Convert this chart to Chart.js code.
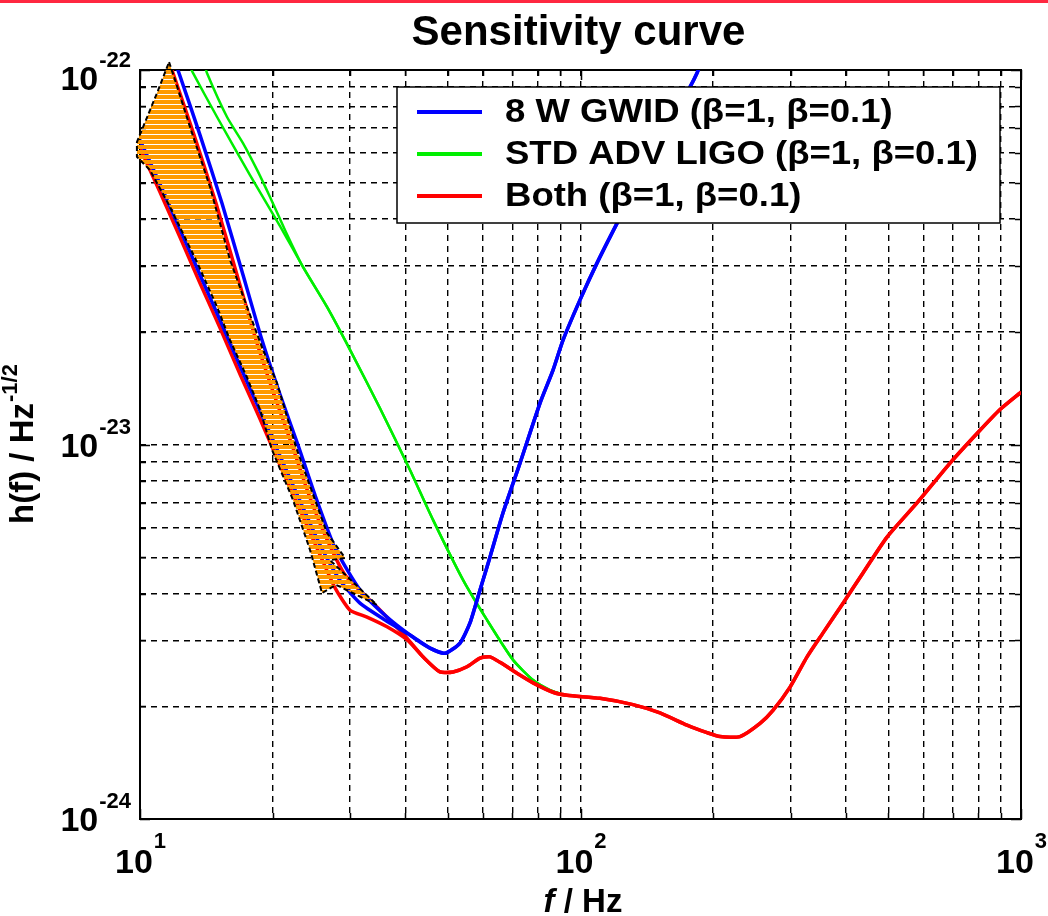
<!DOCTYPE html>
<html>
<head>
<meta charset="utf-8">
<title>Sensitivity curve</title>
<script src="https://cdn.jsdelivr.net/npm/chart.js@4.4.1/dist/chart.umd.min.js"></script>
<style>
  html, body { margin: 0; padding: 0; background: #fff; }
  #wrap { width: 1048px; height: 916px; }
</style>
</head>
<body>
<div id="wrap"><canvas id="sensChart" width="1048" height="916"></canvas></div>
<script>
// ---- data (f in Hz, h in 1/sqrt(Hz)) ----
const gwid1F = [12.0, 12.26, 13.68, 15.35, 17.13, 18.92, 20.79, 22.84, 24.96, 27.72, 31.58, 35.99, 41.01, 45.53, 49.24, 53.27, 56.12, 59.14, 62.32, 66.70, 72.89, 80.93, 86.62, 91.27, 99.7, 109.0, 121.1, 147.6, 177.3, 183.9, 186.8];
const gwid1H = [1.05e-22, 9.82e-23, 6.71e-23, 4.41e-23, 2.84e-23, 1.90e-23, 1.36e-23, 9.97e-24, 7.33e-24, 5.29e-24, 4.09e-24, 3.50e-24, 3.10e-24, 2.86e-24, 2.77e-24, 2.95e-24, 3.34e-24, 4.09e-24, 5.01e-24, 6.57e-24, 8.92e-24, 1.29e-23, 1.58e-23, 1.90e-23, 2.43e-23, 3.05e-23, 3.90e-23, 6.11e-23, 9.01e-23, 9.82e-23, 1.03e-22];

const gwid01F = [10.0, 11.10, 12.32, 13.68, 15.19, 16.87, 18.73, 20.79, 23.08, 25.63, 28.40, 31.58, 35.99, 41.01, 45.53, 49.24, 53.27, 56.12, 59.14, 62.32, 66.70, 72.89, 80.93, 86.62, 91.27, 99.7, 109.0, 121.1, 147.6, 177.3, 183.9, 186.8];
const gwid01H = [6.50e-23, 4.96e-23, 3.76e-23, 2.84e-23, 2.15e-23, 1.62e-23, 1.23e-23, 9.32e-24, 7.07e-24, 5.39e-24, 4.35e-24, 3.77e-24, 3.40e-24, 3.10e-24, 2.86e-24, 2.77e-24, 2.95e-24, 3.34e-24, 4.09e-24, 5.01e-24, 6.57e-24, 8.92e-24, 1.29e-23, 1.58e-23, 1.90e-23, 2.43e-23, 3.05e-23, 3.90e-23, 6.11e-23, 9.01e-23, 9.82e-23, 1.03e-22];

const ligo1F = [12.85, 13.19, 14.96, 17.77, 20.79, 23.44, 26.58, 29.98, 35.06, 41.01, 46.26, 54.11, 61.34, 70.27, 78.03, 85.27, 92.2];
const ligo1H = [1.05e-22, 9.82e-23, 7.49e-23, 5.24e-23, 3.83e-23, 2.98e-23, 2.33e-23, 1.79e-23, 1.25e-23, 8.55e-24, 6.29e-24, 4.35e-24, 3.40e-24, 2.66e-24, 2.35e-24, 2.21e-24, 2.14e-24];

const ligo01F = [13.97, 14.19, 15.76, 17.13, 18.44, 19.73, 21.45, 23.44, 26.58, 29.98, 35.06, 41.01, 46.26, 54.11, 61.34, 70.27, 78.03, 85.27, 92.2];
const ligo01H = [1.05e-22, 9.82e-23, 7.49e-23, 6.38e-23, 5.41e-23, 4.58e-23, 3.69e-23, 2.98e-23, 2.33e-23, 1.79e-23, 1.25e-23, 8.55e-24, 6.29e-24, 4.35e-24, 3.40e-24, 2.66e-24, 2.35e-24, 2.21e-24, 2.14e-24];

const both1F = [11.57, 11.88, 13.26, 14.88, 16.60, 18.34, 20.15, 22.13, 24.19, 26.30, 29.21, 34.51, 40.38, 43.90, 47.97, 51.36, 55.24, 59.14, 62.32, 65.66, 71.75, 78.03, 86.62, 93.19, 110.7, 131.6, 151.5, 174.5, 193.8, 207.4, 230.2, 255.6, 273.5, 299.0, 326.8, 355.3, 394.5, 437.8, 496.4, 580.6, 690.1, 794.5, 896.1, 1000];
const both1H = [1.08e-22, 9.82e-23, 6.71e-23, 4.41e-23, 2.84e-23, 1.90e-23, 1.36e-23, 9.97e-24, 7.33e-24, 5.73e-24, 4.48e-24, 3.68e-24, 3.04e-24, 2.71e-24, 2.47e-24, 2.47e-24, 2.55e-24, 2.69e-24, 2.71e-24, 2.62e-24, 2.45e-24, 2.31e-24, 2.18e-24, 2.14e-24, 2.10e-24, 2.02e-24, 1.92e-24, 1.78e-24, 1.70e-24, 1.66e-24, 1.66e-24, 1.80e-24, 1.95e-24, 2.25e-24, 2.71e-24, 3.14e-24, 3.77e-24, 4.54e-24, 5.66e-24, 6.98e-24, 8.92e-24, 1.07e-23, 1.24e-23, 1.38e-23];

const both01F = [10.0, 11.10, 12.32, 13.68, 15.19, 16.87, 18.73, 20.79, 23.08, 25.63, 27.72, 29.98, 32.76, 36.37, 40.38, 43.90, 47.97, 51.36, 55.24, 59.14, 62.32, 65.66, 71.75, 78.03, 86.62, 93.19, 110.7, 131.6, 151.5, 174.5, 193.8, 207.4, 230.2, 255.6, 273.5, 299.0, 326.8, 355.3, 394.5, 437.8, 496.4, 580.6, 690.1, 794.5, 896.1, 1000];
const both01H = [6.19e-23, 4.72e-23, 3.58e-23, 2.70e-23, 2.05e-23, 1.54e-23, 1.17e-23, 8.81e-24, 6.69e-24, 5.07e-24, 4.14e-24, 3.61e-24, 3.46e-24, 3.26e-24, 3.01e-24, 2.71e-24, 2.47e-24, 2.47e-24, 2.55e-24, 2.69e-24, 2.71e-24, 2.62e-24, 2.45e-24, 2.31e-24, 2.18e-24, 2.14e-24, 2.10e-24, 2.02e-24, 1.92e-24, 1.78e-24, 1.70e-24, 1.66e-24, 1.66e-24, 1.80e-24, 1.95e-24, 2.25e-24, 2.71e-24, 3.14e-24, 3.77e-24, 4.54e-24, 5.66e-24, 6.98e-24, 8.92e-24, 1.07e-23, 1.24e-23, 1.38e-23];

// outline of the hatched arrow drawn over the low-frequency part
const arrowF = [11.64, 12.01, 12.99, 14.42, 16.01, 17.50, 19.02, 20.46, 22.72, 26.58, 29.21, 27.00, 34.51, 27.86, 25.90, 24.32, 22.25, 19.94, 18.73, 17.50, 16.01, 14.96, 13.47, 11.70, 10.53, 9.84, 9.84, 10.16, 10.93, 11.64];
const arrowH = [1.05e-22, 9.40e-23, 7.04e-23, 4.87e-23, 3.11e-23, 2.33e-23, 1.79e-23, 1.46e-23, 9.67e-24, 5.80e-24, 4.98e-24, 4.91e-24, 3.73e-24, 4.22e-24, 4.01e-24, 5.23e-24, 7.11e-24, 9.67e-24, 1.24e-23, 1.51e-23, 1.90e-23, 2.33e-23, 3.07e-23, 4.31e-23, 5.41e-23, 5.86e-23, 6.42e-23, 7.04e-23, 8.68e-23, 1.05e-22];

const legendLabels = ['8 W GWID (\u03b2=1, \u03b2=0.1)', 'STD ADV LIGO (\u03b2=1, \u03b2=0.1)', 'Both (\u03b2=1, \u03b2=0.1)'];
const legendColors = ['#0000ff', '#00ee00', '#ff0000'];

const xGrid = [10, 20, 30, 40, 50, 60, 70, 80, 90, 100, 200, 300, 400, 500, 600, 700, 800, 900, 1000];
const yGrid = [1e-24, 2e-24, 3e-24, 4e-24, 5e-24, 6e-24, 7e-24, 8e-24, 9e-24, 1e-23, 2e-23, 3e-23, 4e-23, 5e-23, 6e-23, 7e-23, 8e-23, 9e-23, 1e-22];
const xMajor = [10, 100, 1000];
const xMajorExp = ['1', '2', '3'];
const yMajor = [1e-24, 1e-23, 1e-22];
const yMajorExp = ['-24', '-23', '-22'];

const FONT = '"Liberation Sans", Arial, Helvetica, sans-serif';

function pts(fs, hs) {
    return fs.map((f, i) => ({ x: f, y: hs[i] }));
}

function curve(fs, hs, color, width, order) {
    return {
        data: pts(fs, hs),
        showLine: true,
        borderColor: color,
        backgroundColor: color,
        borderWidth: width,
        pointRadius: 0,
        tension: 0.2,
        fill: false,
        order: order
    };
}

// hatch tile: orange with thin see-through stripes
const hatchTile = document.createElement('canvas');
hatchTile.width = 8;
hatchTile.height = 5;
(() => {
    const g = hatchTile.getContext('2d');
    g.fillStyle = '#ff9a00';
    g.fillRect(0, 0, 8, 4);
})();

// draws "10" with a raised exponent
function drawPow(ctx, exp, x, y, align, baseSize, expSize, rise) {
    ctx.font = 'bold ' + baseSize + 'px ' + FONT;
    const wb = ctx.measureText('10').width;
    ctx.font = 'bold ' + expSize + 'px ' + FONT;
    const we = ctx.measureText(exp).width;
    let left = x;
    if (align === 'center') left = x - (wb + we) / 2;
    if (align === 'right') left = x - wb - we;
    ctx.textAlign = 'left';
    ctx.textBaseline = 'alphabetic';
    ctx.font = 'bold ' + baseSize + 'px ' + FONT;
    ctx.fillText('10', left, y);
    ctx.font = 'bold ' + expSize + 'px ' + FONT;
    ctx.fillText(exp, left + wb + 1, y - rise);
}

const decorPlugin = {
    id: 'decor',
    beforeDatasetsDraw(chart) {
        const { ctx, chartArea: a, scales } = chart;
        ctx.save();
        ctx.strokeStyle = '#000';
        ctx.lineWidth = 1.5;
        // inner tick marks on all four sides
        xGrid.forEach(v => {
            const px = Math.round(scales.x.getPixelForValue(v)) + 0.5;
            const len = xMajor.includes(v) ? 10 : 6;
            ctx.beginPath();
            ctx.moveTo(px, a.bottom); ctx.lineTo(px, a.bottom - len);
            ctx.moveTo(px, a.top); ctx.lineTo(px, a.top + len);
            ctx.stroke();
        });
        yGrid.forEach(v => {
            const py = Math.round(scales.y.getPixelForValue(v)) + 0.5;
            const len = yMajor.includes(v) ? 10 : 6;
            ctx.beginPath();
            ctx.moveTo(a.left, py); ctx.lineTo(a.left + len, py);
            ctx.moveTo(a.right, py); ctx.lineTo(a.right - len, py);
            ctx.stroke();
        });
        ctx.lineWidth = 2;
        ctx.strokeRect(a.left, a.top, a.right - a.left, a.bottom - a.top);
        ctx.restore();
    },
    beforeDatasetDraw(chart, args) {
        if (args.index !== 0) return;
        const ctx = chart.ctx;
        const points = args.meta.data;
        ctx.save();
        ctx.beginPath();
        points.forEach((p, i) => (i ? ctx.lineTo(p.x, p.y) : ctx.moveTo(p.x, p.y)));
        ctx.closePath();
        ctx.fillStyle = ctx.createPattern(hatchTile, 'repeat');
        ctx.fill();
        ctx.restore();
    },
    afterDraw(chart) {
        const { ctx, chartArea: a, scales } = chart;
        ctx.save();

        // red rule along the top of the page
        ctx.fillStyle = '#ff2840';
        ctx.fillRect(0, 0, chart.width, 3);

        ctx.fillStyle = '#000';
        // title
        ctx.font = 'bold 42px ' + FONT;
        ctx.textAlign = 'center';
        ctx.textBaseline = 'alphabetic';
        ctx.fillText('Sensitivity curve', (a.left + a.right) / 2 - 2, 45);

        // x tick labels
        xMajor.forEach((v, i) => {
            const px = scales.x.getPixelForValue(v);
            drawPow(ctx, xMajorExp[i], px, 873, 'center', 34, 22, 25);
        });
        // y tick labels
        yMajor.forEach((v, i) => {
            const py = scales.y.getPixelForValue(v);
            drawPow(ctx, yMajorExp[i], a.left - 10, Math.max(py, 78) + 12, 'right', 34, 22, 23);
        });

        // x axis title
        ctx.font = 'bold italic 33px ' + FONT;
        const wf = ctx.measureText('f').width;
        ctx.font = 'bold 33px ' + FONT;
        const wr = ctx.measureText(' / Hz').width;
        const xl = 583 - (wf + wr) / 2;
        ctx.textAlign = 'left';
        ctx.font = 'bold italic 33px ' + FONT;
        ctx.fillText('f', xl, 912);
        ctx.font = 'bold 33px ' + FONT;
        ctx.fillText(' / Hz', xl + wf, 912);

        // y axis title (rotated)
        ctx.save();
        ctx.translate(33, (a.top + a.bottom) / 2);
        ctx.rotate(-Math.PI / 2);
        ctx.font = 'bold 33px ' + FONT;
        const wm = ctx.measureText('h(f) / Hz').width;
        ctx.font = 'bold 22px ' + FONT;
        const we = ctx.measureText('-1/2').width;
        const yl = -(wm + we) / 2;
        ctx.font = 'bold 33px ' + FONT;
        ctx.fillText('h(f) / Hz', yl, 0);
        ctx.font = 'bold 22px ' + FONT;
        ctx.fillText('-1/2', yl + wm + 1, -16);
        ctx.restore();

        // legend box
        const bx = 397, by = 87, bw = 603, bh = 136;
        ctx.fillStyle = '#fff';
        ctx.fillRect(bx, by, bw, bh);
        ctx.strokeStyle = '#000';
        ctx.lineWidth = 1.5;
        ctx.strokeRect(bx, by, bw, bh);
        ctx.font = 'bold 33px ' + FONT;
        const stretch = 473 / ctx.measureText(legendLabels[1]).width;
        legendLabels.forEach((label, i) => {
            const ly = 112 + i * 42;
            ctx.strokeStyle = legendColors[i];
            ctx.lineWidth = 4;
            ctx.beginPath();
            ctx.moveTo(417, ly);
            ctx.lineTo(482, ly);
            ctx.stroke();
            ctx.save();
            ctx.translate(505, ly + 1);
            ctx.scale(stretch, 1);
            ctx.fillStyle = '#000';
            ctx.textAlign = 'left';
            ctx.textBaseline = 'middle';
            ctx.fillText(label, 0, 0);
            ctx.restore();
        });
        ctx.restore();
    }
};

const arrowSet = {
    data: pts(arrowF, arrowH),
    showLine: true,
    borderColor: '#000',
    borderWidth: 2,
    borderDash: [5, 3],
    pointRadius: 0,
    tension: 0,
    fill: false,
    clip: false,
    order: 0
};

new Chart(document.getElementById('sensChart'), {
    type: 'scatter',
    data: {
        datasets: [
            arrowSet,
            curve(gwid1F, gwid1H, '#0000ff', 3.5, 1),
            curve(gwid01F, gwid01H, '#0000ff', 3.5, 1),
            curve(both1F, both1H, '#ff0000', 3.5, 2),
            curve(both01F, both01H, '#ff0000', 3.5, 2),
            curve(ligo1F, ligo1H, '#00ee00', 2.5, 3),
            curve(ligo01F, ligo01H, '#00ee00', 2.5, 3)
        ]
    },
    options: {
        responsive: false,
        animation: false,
        devicePixelRatio: 1,
        layout: { padding: { left: 140, right: 27, top: 70, bottom: 97 } },
        plugins: {
            legend: { display: false },
            tooltip: { enabled: false },
            title: { display: false }
        },
        scales: {
            x: {
                type: 'logarithmic',
                min: 10,
                max: 1000,
                afterBuildTicks: s => { s.ticks = xGrid.map(v => ({ value: v })); },
                ticks: { display: false },
                grid: { color: '#000', lineWidth: 1.4, drawTicks: false },
                border: { display: false, dash: [6, 5] }
            },
            y: {
                type: 'logarithmic',
                min: 1e-24,
                max: 1e-22,
                afterBuildTicks: s => { s.ticks = yGrid.map(v => ({ value: v })); },
                ticks: { display: false },
                grid: { color: '#000', lineWidth: 1.4, drawTicks: false },
                border: { display: false, dash: [6, 5] }
            }
        }
    },
    plugins: [decorPlugin]
});
</script>
</body>
</html>
